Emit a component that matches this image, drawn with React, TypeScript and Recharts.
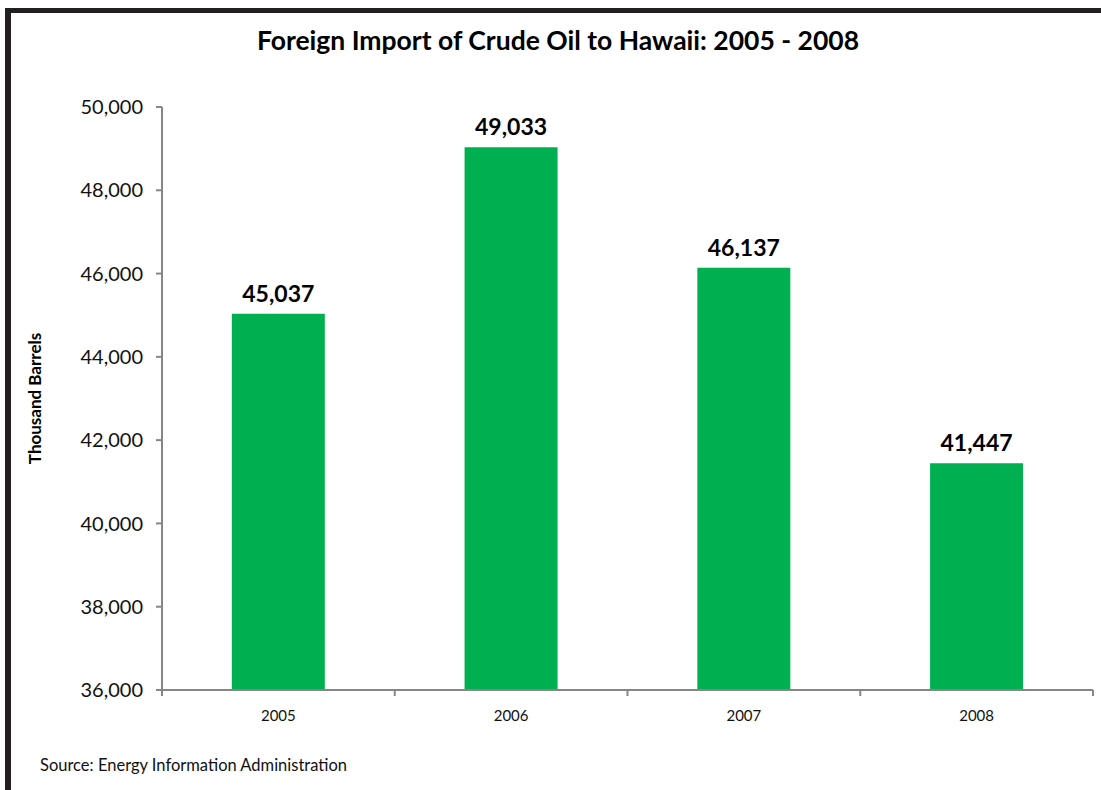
import React from "react";
import { BarChart, Bar, XAxis, YAxis, LabelList } from "recharts";

const years = ["2005", "2006", "2007", "2008"];
const imports = [45037, 49033, 46137, 41447];
const yTicks = [36000, 38000, 40000, 42000, 44000, 46000, 48000, 50000];

const data = years.map((year, i) => ({ year, value: imports[i] }));

const W = 1101;
const H = 790;
const LEFT = 162;
const RIGHT = 8;
const TOP = 107;
const BOTTOM = 100;
const plotW = W - LEFT - RIGHT;
const plotH = H - TOP - BOTTOM;
const half = plotW / years.length / 2;

const font = "Lato, Calibri, Carlito, sans-serif";
const axisColor = "#868686";

function YearTick(props: any) {
  const { x, y, payload, index } = props;
  const last = index === years.length - 1;
  const y0 = y - 8;
  return (
    <g>
      <line x1={x - half} y1={y0} x2={x - half} y2={y0 + 6} stroke={axisColor} strokeWidth={2} />
      {last && (
        <line x1={x + half} y1={y0} x2={x + half} y2={y0 + 6} stroke={axisColor} strokeWidth={2} />
      )}
      <text x={x} y={y + 23} textAnchor="middle" fontSize={15} fill="#111" fontFamily={font}>
        {payload.value}
      </text>
    </g>
  );
}

function YLabel() {
  const cx = 41;
  const cy = TOP + plotH / 2;
  return (
    <text
      x={cx}
      y={cy}
      transform={`rotate(-90 ${cx} ${cy})`}
      textAnchor="middle"
      fontSize={17}
      fontWeight={700}
      fill="#000"
      fontFamily={font}
    >
      Thousand Barrels
    </text>
  );
}

export default function App() {
  return (
    <div style={{ position: "absolute", left: 0, top: 0, width: W, height: H, background: "#fff", fontFamily: font }}>
      <div style={{ position: "absolute", left: 5, top: 8, width: 6, height: H - 8, background: "#231f20" }} />
      <div style={{ position: "absolute", left: 5, top: 8, width: W - 5, height: 5, background: "#231f20" }} />
      <div
        style={{
          position: "absolute",
          left: 0,
          top: 24,
          width: 1116,
          textAlign: "center",
          fontSize: 26.5,
          fontWeight: 700,
          color: "#000",
        }}
      >
        Foreign Import of Crude Oil to Hawaii: 2005 - 2008
      </div>
      <div style={{ position: "absolute", left: 40, top: 755, fontSize: 16.5, color: "#111" }}>
        Source: Energy Information Administration
      </div>
      <BarChart
        width={W}
        height={H}
        data={data}
        margin={{ top: TOP, right: RIGHT, bottom: 0, left: 0 }}
        barCategoryGap="30%"
      >
        <XAxis
          dataKey="year"
          height={BOTTOM}
          tickLine={false}
          axisLine={{ stroke: axisColor, strokeWidth: 2 }}
          tick={<YearTick />}
          interval={0}
        />
        <YAxis
          width={LEFT}
          domain={[36000, 50000]}
          ticks={yTicks}
          interval={0}
          allowDataOverflow
          tickSize={6}
          tickMargin={13}
          axisLine={{ stroke: axisColor, strokeWidth: 2 }}
          tickLine={{ stroke: axisColor, strokeWidth: 2 }}
          tick={{ fontSize: 20, fill: "#111", fontFamily: font }}
          tickFormatter={(v: number) => v.toLocaleString("en-US")}
          label={<YLabel />}
        />
        <Bar dataKey="value" fill="#00b050" isAnimationActive={false}>
          <LabelList
            dataKey="value"
            position="top"
            offset={12}
            formatter={(v: any) => Number(v).toLocaleString("en-US")}
            style={{ fontSize: 23, fontWeight: 700, fill: "#000", fontFamily: font }}
          />
        </Bar>
      </BarChart>
    </div>
  );
}
